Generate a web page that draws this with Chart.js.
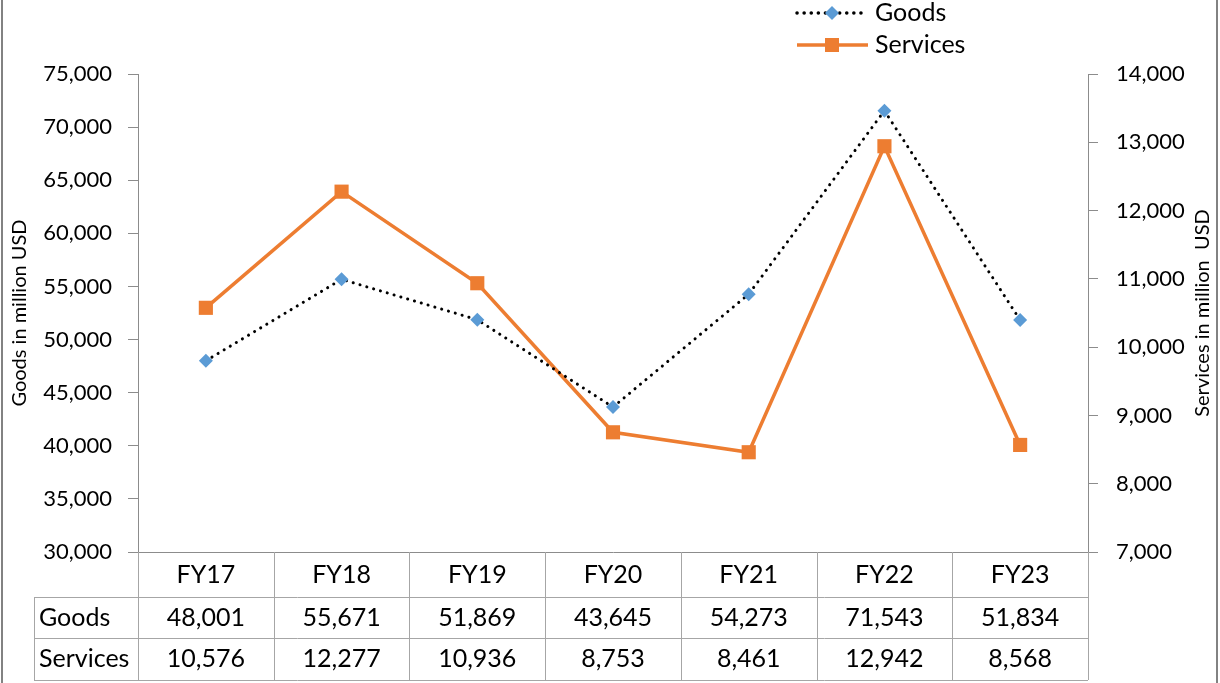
<!DOCTYPE html>
<html>
<head>
<meta charset="utf-8">
<title>Goods and Services</title>
<style>
  html, body { margin: 0; padding: 0; background: #fff; }
  #wrap { width: 1220px; height: 683px; position: relative; }
</style>
</head>
<body>
<div id="wrap"><canvas id="myChart" width="1220" height="683"></canvas></div>
<script src="https://cdn.jsdelivr.net/npm/chart.js"></script>
<script>
// data
const years = ['FY17', 'FY18', 'FY19', 'FY20', 'FY21', 'FY22', 'FY23'];
const goods = [48001, 55671, 51869, 43645, 54273, 71543, 51834];
const services = [10576, 12277, 10936, 8753, 8461, 12942, 8568];
const goodsTicks = [30000, 35000, 40000, 45000, 50000, 55000, 60000, 65000, 70000, 75000];
const servicesTicks = [7000, 8000, 9000, 10000, 11000, 12000, 13000, 14000];
const goodsTitle = 'Goods in million USD';
const servicesTitle = 'Services in million  USD';

const FONT = 'Lato, "Open Sans", sans-serif';
const fmt = v => v.toLocaleString('en-US');
const gray = '#8c8c8c';

// white background + side frame
const bgPlugin = {
  id: 'bg',
  beforeDraw(chart) {
    const c = chart.ctx;
    c.save();
    c.fillStyle = '#fff';
    c.fillRect(0, 0, chart.width, chart.height);
    c.strokeStyle = '#595959';
    c.lineWidth = 1.5;
    c.beginPath();
    c.moveTo(2, 0); c.lineTo(2, chart.height);
    c.moveTo(1217, 0); c.lineTo(1217, chart.height);
    c.stroke();
    c.restore();
  }
};

// both axis titles read bottom-to-top
const axisTitlePlugin = {
  id: 'axisTitles',
  afterDraw(chart) {
    const c = chart.ctx;
    const a = chart.chartArea;
    const cy = (a.top + a.bottom) / 2;
    c.save();
    c.fillStyle = '#000';
    c.font = '20px ' + FONT;
    c.textAlign = 'center';
    c.textBaseline = 'middle';
    [[20, goodsTitle], [1203, servicesTitle]].forEach(([tx, t]) => {
      c.save();
      c.translate(tx, cy);
      c.rotate(-Math.PI / 2);
      c.fillText(t, 0, 0);
      c.restore();
    });
    c.restore();
  }
};

// data table under the x axis
const tablePlugin = {
  id: 'dataTable',
  afterDraw(chart) {
    const c = chart.ctx;
    const x = chart.scales.x;
    const n = years.length;
    const half = (x.right - x.left) / (2 * n);
    const top = chart.chartArea.bottom;
    const r1 = top + 45, r2 = top + 86, r3 = top + 128;
    const labelLeft = 34;
    c.save();
    c.strokeStyle = '#a6a6a6';
    c.lineWidth = 1;
    c.beginPath();
    for (let i = 0; i <= n; i++) {
      const px = Math.round(x.left + i * 2 * half) + 0.5;
      c.moveTo(px, top); c.lineTo(px, r3);
    }
    c.moveTo(labelLeft + 0.5, r1); c.lineTo(labelLeft + 0.5, r3);
    [r1, r2, r3].forEach(y => {
      c.moveTo(labelLeft, Math.round(y) + 0.5);
      c.lineTo(x.right, Math.round(y) + 0.5);
    });
    c.stroke();

    c.fillStyle = '#000';
    c.font = '25px ' + FONT;
    c.textBaseline = 'middle';
    c.textAlign = 'center';
    years.forEach((yr, i) => {
      const cx = x.getPixelForValue(i);
      c.fillText(yr, cx, (top + r1) / 2);
      c.fillText(fmt(goods[i]), cx, (r1 + r2) / 2);
      c.fillText(fmt(services[i]), cx, (r2 + r3) / 2);
    });
    c.textAlign = 'left';
    c.fillText('Goods', labelLeft + 5, (r1 + r2) / 2);
    c.fillText('Services', labelLeft + 5, (r2 + r3) / 2);
    c.restore();
  }
};

// legend, stacked at top right
const legendPlugin = {
  id: 'legendBox',
  afterDraw(chart) {
    const c = chart.ctx;
    const x0 = 797, x1 = 868, mx = 832, tx = 875;
    c.save();
    // Goods
    let y = 13;
    c.strokeStyle = '#000';
    c.lineWidth = 3.5;
    c.lineCap = 'round';
    c.setLineDash([0.1, 7]);
    c.beginPath(); c.moveTo(x0, y); c.lineTo(x1, y); c.stroke();
    c.setLineDash([]);
    c.fillStyle = '#5b9bd5';
    c.beginPath();
    c.moveTo(mx, y - 7); c.lineTo(mx + 7, y); c.lineTo(mx, y + 7); c.lineTo(mx - 7, y);
    c.closePath(); c.fill();
    // Services
    y = 45;
    c.strokeStyle = '#ed7d31';
    c.lineCap = 'butt';
    c.beginPath(); c.moveTo(x0, y); c.lineTo(x1, y); c.stroke();
    c.fillStyle = '#ed7d31';
    c.fillRect(mx - 7, y - 7, 14, 14);
    c.fillStyle = '#000';
    c.font = '25px ' + FONT;
    c.textBaseline = 'middle';
    c.textAlign = 'left';
    c.fillText('Goods', tx, 13);
    c.fillText('Services', tx, 45);
    c.restore();
  }
};

const ctx = document.getElementById('myChart').getContext('2d');
const myChart = new Chart(ctx, {
  type: 'line',
  data: {
    labels: years,
    datasets: [{
      label: 'Goods',
      data: goods,
      yAxisID: 'yGoods',
      borderColor: '#000',
      borderWidth: 3,
      borderDash: [0.1, 7],
      borderCapStyle: 'round',
      pointStyle: 'rectRot',
      pointRadius: 7,
      pointBackgroundColor: '#5b9bd5',
      pointBorderColor: '#5b9bd5',
      pointBorderWidth: 0,
      tension: 0,
      fill: false
    }, {
      label: 'Services',
      data: services,
      yAxisID: 'yServices',
      borderColor: '#ed7d31',
      borderWidth: 3.5,
      pointStyle: 'rect',
      pointRadius: 10,
      pointBackgroundColor: '#ed7d31',
      pointBorderColor: '#ed7d31',
      pointBorderWidth: 0,
      tension: 0,
      fill: false
    }]
  },
  options: {
    responsive: false,
    animation: false,
    layout: { padding: { top: 74, left: 0, right: 0, bottom: 0 } },
    plugins: {
      legend: { display: false },
      tooltip: { enabled: false }
    },
    scales: {
      x: {
        offset: true,
        grid: { display: false },
        border: { display: true, color: gray, width: 1 },
        ticks: { display: false },
        afterFit: s => { s.height = 131; }
      },
      yGoods: {
        position: 'left',
        min: 30000,
        max: 75000,
        afterBuildTicks: s => { s.ticks = goodsTicks.map(v => ({ value: v })); },
        ticks: {
          color: '#000',
          font: { family: FONT, size: 22 },
          padding: 16,
          callback: v => fmt(v)
        },
        grid: { drawOnChartArea: false, tickLength: 10, color: gray },
        border: { color: gray, width: 1 },
        afterFit: s => { s.width = 138; }
      },
      yServices: {
        position: 'right',
        min: 7000,
        max: 14000,
        afterBuildTicks: s => { s.ticks = servicesTicks.map(v => ({ value: v })); },
        ticks: {
          color: '#000',
          font: { family: FONT, size: 22 },
          padding: 18,
          callback: v => fmt(v)
        },
        grid: { drawOnChartArea: false, tickLength: 10, color: gray },
        border: { color: gray, width: 1 },
        afterFit: s => { s.width = 132; }
      }
    }
  },
  plugins: [bgPlugin, axisTitlePlugin, tablePlugin, legendPlugin]
});
</script>
</body>
</html>
